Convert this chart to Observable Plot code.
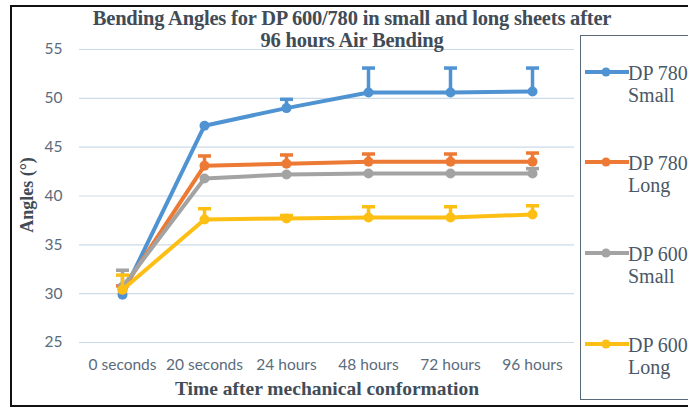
<!DOCTYPE html>
<html><head><meta charset="utf-8">
<script src="https://cdn.jsdelivr.net/npm/d3@7"></script>
<script src="https://cdn.jsdelivr.net/npm/@observablehq/plot@0.6"></script>
<style>
body{margin:0;background:#fff;}
#wrap{position:relative;width:688px;height:412px;overflow:hidden;background:#fff;}
#frame{position:absolute;left:10px;top:5px;width:700px;height:402px;border:2px solid #111;box-sizing:border-box;pointer-events:none;}
.serif{font-family:"Liberation Serif","Times New Roman",Tinos,"DejaVu Serif",serif;}
#title{position:absolute;left:52px;width:600px;top:7px;text-align:center;font-weight:bold;font-size:20.5px;color:#414c57;line-height:22px;letter-spacing:-0.2px;}
#xlabel{position:absolute;left:27px;width:600px;top:377px;text-align:center;font-weight:bold;font-size:19.5px;color:#414c57;line-height:24px;}
#ylabel{position:absolute;left:27px;top:195px;transform:translate(-50%,-50%) rotate(-90deg);white-space:nowrap;font-weight:bold;font-size:18px;color:#414c57;}
#legend{position:absolute;left:580px;top:35px;width:140px;height:365px;border:1.5px solid #586a7a;box-sizing:border-box;background:#fff;}
.li{position:absolute;left:0;width:140px;}
.li svg{position:absolute;left:4px;top:0;}
.li .t{position:absolute;left:47px;top:-10px;font-size:20px;color:#4a5867;line-height:22px;white-space:nowrap;}
svg.plot{position:absolute;left:0;top:0;}
</style></head><body>
<div id="wrap">
<div id="title" class="serif">Bending Angles for DP 600/780 in small and long sheets after<br>96 hours Air Bending</div>
<div id="ylabel" class="serif">Angles (°)</div>
<div id="xlabel" class="serif">Time after mechanical conformation</div>
<div id="legend"></div>
<div id="frame"></div>
</div>
<script>
const categories = ["0 seconds","20 seconds","24 hours","48 hours","72 hours","96 hours"];
const seriesNames = ["DP 780 Small","DP 780 Long","DP 600 Small","DP 600 Long"];
const seriesColors = ["#4f93d3","#ec7a35","#a3a3a3","#fdbf14"];
const yTicks = [25,30,35,40,45,50,55];

const dp780Small    = [29.9, 47.2, 49.0, 50.6, 50.6, 50.7];
const dp780SmallErr = [0.0, 0.0, 0.9, 2.5, 2.5, 2.4];
const dp780Long     = [30.4, 43.1, 43.3, 43.5, 43.5, 43.5];
const dp780LongErr  = [0.4, 1.0, 0.9, 0.8, 0.8, 0.9];
const dp600Small    = [30.7, 41.8, 42.2, 42.3, 42.3, 42.3];
const dp600SmallErr = [1.7, 0.0, 0.0, 0.0, 0.0, 0.5];
const dp600Long     = [30.4, 37.6, 37.7, 37.8, 37.8, 38.1];
const dp600LongErr  = [1.5, 1.1, 0.3, 1.1, 1.1, 0.9];

const valueSets = [dp780Small, dp780Long, dp600Small, dp600Long];
const errSets = [dp780SmallErr, dp780LongErr, dp600SmallErr, dp600LongErr];

const rows = [];
seriesNames.forEach((s, si) => {
  categories.forEach((c, ci) => {
    rows.push({series: s, cat: c, value: valueSets[si][ci], err: errSets[si][ci]});
  });
});
const errRows = rows.filter(d => d.err > 0);

const capSymbol = {draw(ctx, size){ const r = Math.sqrt(size/Math.PI); ctx.moveTo(-r,0); ctx.lineTo(r,0); }};

const marks = [
  Plot.gridY(yTicks, {stroke:"#cbdbe8", strokeOpacity:1, strokeWidth:1.2}),
  Plot.axisY(yTicks, {tickSize:0, tickPadding:17, fontSize:15.5, fill:"#5a6b7c", label:null, fontFamily:"Lato"}),
  Plot.axisX({tickSize:0, tickPadding:16, fontSize:15.5, fill:"#5a6b7c", label:null, fontFamily:"Lato"})
];
seriesNames.forEach(s => {
  const r = rows.filter(d => d.series === s);
  const e = errRows.filter(d => d.series === s);
  marks.push(
    Plot.line(r, {x:"cat", y:"value", stroke:"series", strokeWidth:4}),
    Plot.ruleX(e, {x:"cat", y1:"value", y2:d=>d.value+d.err, stroke:"series", strokeWidth:3.5}),
    Plot.dot(e, {x:"cat", y:d=>d.value+d.err, symbol:capSymbol, r:6.5, stroke:"series", strokeWidth:3.5}),
    Plot.dot(r, {x:"cat", y:"value", r:5, fill:"series", stroke:"none"})
  );
});

const chart = Plot.plot({
  width: 688, height: 412,
  marginLeft: 79, marginRight: 114, marginTop: 49, marginBottom: 70,
  style: {background:"transparent"},
  x: {type:"point", domain: categories, padding: 0.5, label:null},
  y: {domain:[25,55], label:null},
  color: {domain: seriesNames, range: seriesColors},
  marks
});
chart.classList.add("plot");
const wrap = document.getElementById("wrap");
wrap.insertBefore(chart, wrap.firstChild);

const legendY = [36, 126, 217, 308];
const leg = document.getElementById("legend");
seriesNames.forEach((s, i) => {
  const [a, b] = s.split(/ (?=\S+$)/);
  const color = seriesColors[i];
  const div = document.createElement("div");
  div.className = "li";
  div.style.top = legendY[i] + "px";
  div.innerHTML = `<svg width="44" height="12" style="top:-6px"><line x1="0" x2="44" y1="6" y2="6" stroke="${color}" stroke-width="4"/><circle cx="21" cy="6" r="4.5" fill="${color}"/></svg><div class="t serif">${a}<br>${b}</div>`;
  leg.appendChild(div);
});
</script>
</body></html>
